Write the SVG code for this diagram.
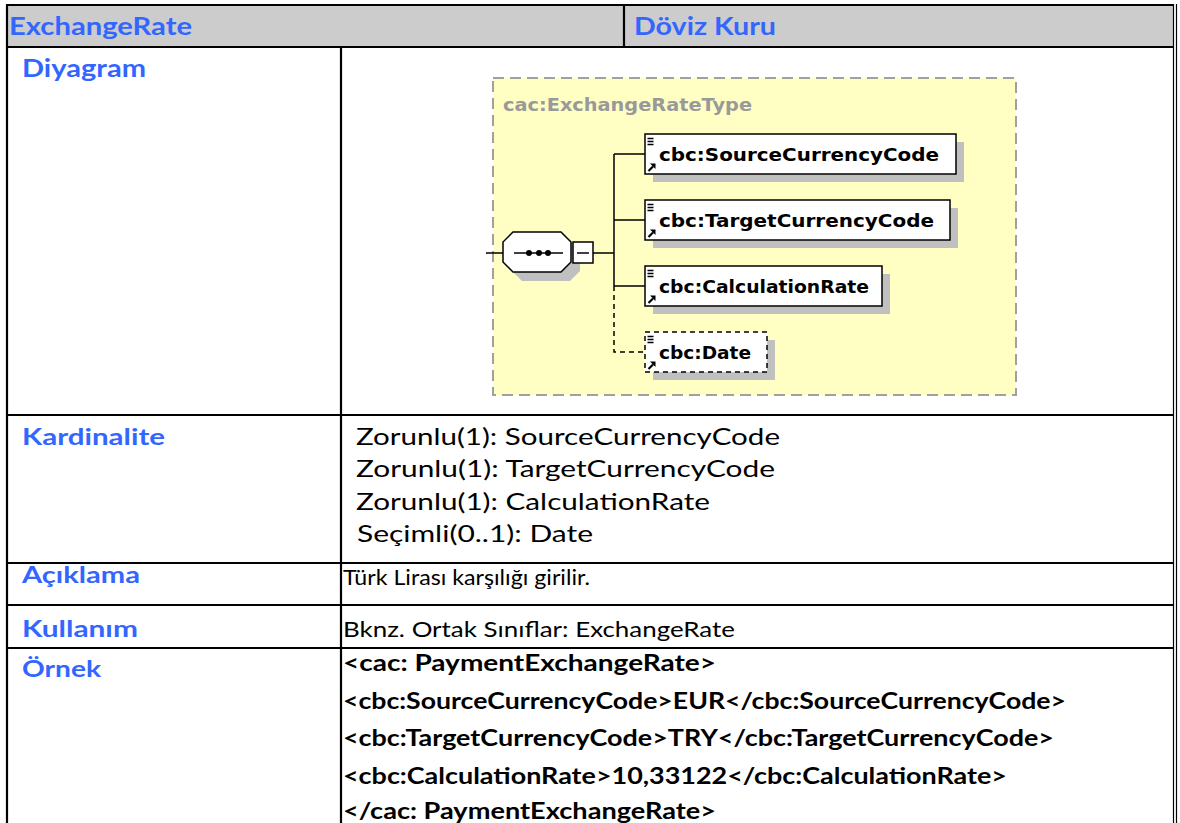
<svg xmlns="http://www.w3.org/2000/svg" width="1180" height="823" viewBox="0 0 1180 823">
<style>
.lbl{font-family:Lato,"Open Sans","Liberation Sans",sans-serif;font-weight:bold;fill:#3366FF;}
.txt{font-family:Lato,"Open Sans","Liberation Sans",sans-serif;fill:#000;}
.bold{font-weight:bold;}
.grid{stroke:#000;stroke-width:2.2;fill:none;}
.el{fill:#fff;stroke:#000;stroke-width:1.5;}
.shadow{fill:#C0C0C0;}
.eltxt{font-family:"DejaVu Sans",Verdana,sans-serif;font-weight:bold;font-size:18px;fill:#000;}
.conn{stroke:#000;stroke-width:1.5;fill:none;}
</style>
<defs>
<g id="icon">
<path d="M2.5 4.5h6M2.5 7.5h6M2.5 10.5h6" stroke="#000" stroke-width="1.3"/>
<path d="M3.5 37 L8 32.5" stroke="#000" stroke-width="2.2"/>
<path d="M5 29.5 L10.5 29.5 L10.5 35 Z" fill="#000"/>
</g>
</defs>
<rect width="1180" height="823" fill="#fff"/>
<g id="table">
<rect x="7" y="5" width="1167" height="41" fill="#CCCCCC"/>
<path class="grid" d="M6 5H1174M6 47H1174M7 4V823M341 47V823M624 5V47M6 415H1174M6 563H1174M6 605H1174M6 648H1174"/>
<path d="M1173.5 4V823M1176.5 4V823" stroke="#000" stroke-width="1.2"/>
</g>
<g id="labels">
<text class="lbl" x="9" y="35" font-size="25" textLength="183" lengthAdjust="spacingAndGlyphs">ExchangeRate</text>
<text class="lbl" x="634" y="35" font-size="25" textLength="142" lengthAdjust="spacingAndGlyphs">Döviz Kuru</text>
<text class="lbl" x="22" y="77" font-size="24" textLength="124" lengthAdjust="spacingAndGlyphs">Diyagram</text>
<text class="lbl" x="22" y="445" font-size="23" textLength="143" lengthAdjust="spacingAndGlyphs">Kardinalite</text>
<text class="lbl" x="22" y="583" font-size="23" textLength="118" lengthAdjust="spacingAndGlyphs">Açıklama</text>
<text class="lbl" x="22" y="637" font-size="23" textLength="116" lengthAdjust="spacingAndGlyphs">Kullanım</text>
<text class="lbl" x="22" y="677" font-size="23" textLength="79" lengthAdjust="spacingAndGlyphs">Örnek</text>
</g>
<g id="cardinality">
<text class="txt" x="356" y="445" font-size="23" textLength="424" lengthAdjust="spacingAndGlyphs">Zorunlu(1): SourceCurrencyCode</text>
<text class="txt" x="356" y="477" font-size="23" textLength="419" lengthAdjust="spacingAndGlyphs">Zorunlu(1): TargetCurrencyCode</text>
<text class="txt" x="356" y="510" font-size="23" textLength="354" lengthAdjust="spacingAndGlyphs">Zorunlu(1): CalculationRate</text>
<text class="txt" x="357" y="542" font-size="23" textLength="236" lengthAdjust="spacingAndGlyphs">Seçimli(0..1): Date</text>
</g>
<g id="description">
<text class="txt" x="343" y="585" font-size="20.5" textLength="247" lengthAdjust="spacingAndGlyphs">Türk Lirası karşılığı girilir.</text>
<text class="txt" x="343" y="637" font-size="20.5" textLength="392" lengthAdjust="spacingAndGlyphs">Bknz. Ortak Sınıflar: ExchangeRate</text>
</g>
<g id="example">
<text class="txt bold" x="343" y="671" font-size="22" textLength="373" lengthAdjust="spacingAndGlyphs">&lt;cac: PaymentExchangeRate&gt;</text>
<text class="txt bold" x="343" y="709" font-size="22" textLength="723" lengthAdjust="spacingAndGlyphs">&lt;cbc:SourceCurrencyCode&gt;EUR&lt;/cbc:SourceCurrencyCode&gt;</text>
<text class="txt bold" x="343" y="746" font-size="22" textLength="711" lengthAdjust="spacingAndGlyphs">&lt;cbc:TargetCurrencyCode&gt;TRY&lt;/cbc:TargetCurrencyCode&gt;</text>
<text class="txt bold" x="343" y="784" font-size="22" textLength="664" lengthAdjust="spacingAndGlyphs">&lt;cbc:CalculationRate&gt;10,33122&lt;/cbc:CalculationRate&gt;</text>
<text class="txt bold" x="343" y="819" font-size="22" textLength="373" lengthAdjust="spacingAndGlyphs">&lt;/cac: PaymentExchangeRate&gt;</text>
</g>
<g id="typebox">
<rect x="493" y="78" width="523" height="317" fill="#FFFFC4" stroke="#A0A0A0" stroke-width="2" stroke-dasharray="11,6"/>
<text x="503" y="111" font-family="'DejaVu Sans',Verdana,sans-serif" font-weight="bold" font-size="17" fill="#999" textLength="249" lengthAdjust="spacingAndGlyphs">cac:ExchangeRateType</text>
</g>
<g id="connectors">
<path class="conn" d="M486 253H503M593 253H614M614 154V286M614 154H645M614 220H645M614 286H645"/>
<path class="conn" d="M614 286V352H645" stroke-dasharray="5,4"/>
</g>
<g id="sequence">
<polygon class="shadow" points="522,241 570,241 580,251 580,271 570,281 522,281 512,271 512,251"/>
<polygon fill="#fff" stroke="#000" stroke-width="1.5" points="513,232 561,232 571,242 571,262 561,272 513,272 503,262 503,242"/>
<path d="M514 253H563" stroke="#000" stroke-width="1.5"/>
<circle cx="529" cy="253" r="3"/><circle cx="539" cy="253" r="3"/><circle cx="548" cy="253" r="3"/>
<rect x="573" y="242" width="20" height="21" fill="#fff" stroke="#000" stroke-width="1.5"/>
<path d="M577 253H589" stroke="#000" stroke-width="1.5"/>
</g>
<g id="SourceCurrencyCode">
<rect class="shadow" x="653" y="142" width="311" height="40"/>
<rect class="el" x="645" y="134" width="311" height="40"/>
<use href="#icon" x="645" y="134"/>
<text class="eltxt" x="659" y="161" textLength="280" lengthAdjust="spacingAndGlyphs">cbc:SourceCurrencyCode</text>
</g>
<g id="TargetCurrencyCode">
<rect class="shadow" x="653" y="208" width="305" height="40"/>
<rect class="el" x="645" y="200" width="305" height="40"/>
<use href="#icon" x="645" y="200"/>
<text class="eltxt" x="659" y="227" textLength="275" lengthAdjust="spacingAndGlyphs">cbc:TargetCurrencyCode</text>
</g>
<g id="CalculationRate">
<rect class="shadow" x="653" y="274" width="237" height="40"/>
<rect class="el" x="645" y="266" width="237" height="40"/>
<use href="#icon" x="645" y="266"/>
<text class="eltxt" x="659" y="293" textLength="210" lengthAdjust="spacingAndGlyphs">cbc:CalculationRate</text>
</g>
<g id="Date">
<rect class="shadow" x="653" y="340" width="122" height="40"/>
<rect class="el" x="645" y="332" width="122" height="40" stroke-dasharray="5,4"/>
<use href="#icon" x="645" y="332"/>
<text class="eltxt" x="659" y="359" textLength="92" lengthAdjust="spacingAndGlyphs">cbc:Date</text>
</g>
</svg>
